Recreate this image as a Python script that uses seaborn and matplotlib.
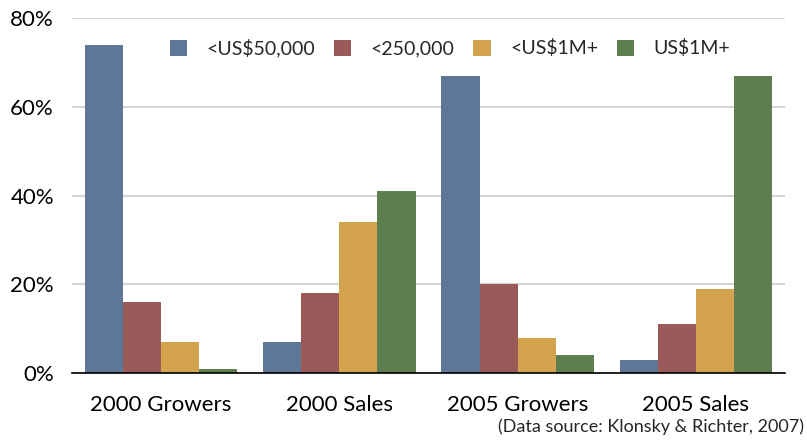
import matplotlib
matplotlib.use("Agg")
import matplotlib.pyplot as plt
import seaborn as sns
import pandas as pd
from matplotlib.ticker import FuncFormatter

categories = ["2000 Growers", "2000 Sales", "2005 Growers", "2005 Sales"]
series = ["<US$50,000", "<250,000", "<US$1M+", "US$1M+"]
under_50k = [74, 7, 67, 3]
under_250k = [16, 18, 20, 11]
under_1m = [7, 34, 8, 19]
over_1m = [1, 41, 4, 67]
colors = ["#5f7796", "#9a5a5a", "#d4a34e", "#5f7e50"]

rows = []
for s, vals in zip(series, [under_50k, under_250k, under_1m, over_1m]):
    for c, v in zip(categories, vals):
        rows.append({"cat": c, "series": s, "value": v})
df = pd.DataFrame(rows)

sns.set_style("white")
plt.rcParams["font.family"] = ["Lato", "DejaVu Sans"]

fig = plt.figure(figsize=(8.07, 4.40), dpi=100)
ax = fig.add_axes([72/807, 1-373/440, 713/807, 355/440])

sns.barplot(data=df, x="cat", y="value", hue="series", order=categories,
            hue_order=series, palette=colors, saturation=1, width=0.855,
            ax=ax, zorder=3, edgecolor="none")

ax.set_ylim(0, 80)
ax.set_xlim(-0.5, 3.5)
ax.set_yticks([0, 20, 40, 60, 80])
ax.yaxis.set_major_formatter(FuncFormatter(lambda v, p: f"{int(v)}%"))
ax.grid(axis="y", color="#cccccc", linewidth=1.2, zorder=0)
ax.grid(axis="x", visible=False)
for s in ["top", "right", "left"]:
    ax.spines[s].set_visible(False)
ax.spines["bottom"].set_color("black")
ax.spines["bottom"].set_linewidth(1.2)
ax.spines["bottom"].set_zorder(4)
ax.tick_params(axis="both", length=0, labelsize=16, colors="black")
ax.tick_params(axis="y", pad=13)
ax.tick_params(axis="x", pad=16)
ax.set_xlabel("")
ax.set_ylabel("")

leg = ax.legend(loc="center", bbox_to_anchor=(0.53, 0.915), ncol=4,
                frameon=False, fontsize=14, handlelength=0.9, handleheight=0.9,
                columnspacing=0.95, handletextpad=1.0)
leg.set_zorder(10)

fig.text(804/807, 1-432/440, "(Data source: Klonsky & Richter, 2007)",
         ha="right", va="baseline", fontsize=13)

fig.savefig("out.png", dpi=100)
